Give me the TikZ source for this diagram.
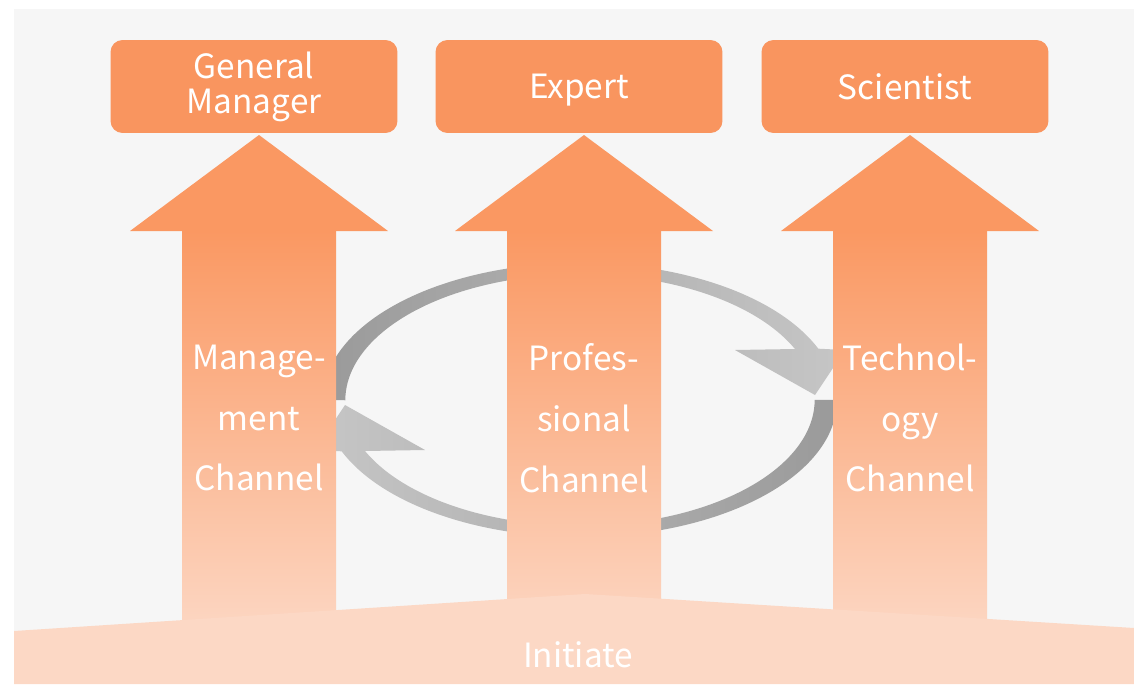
\documentclass[tikz,border=0pt]{standalone}
\usepackage{fontspec}
\setmainfont{Noto Sans CJK SC}
\usepackage{xcolor}
\usepackage{tikz}

\definecolor{boxorange}{HTML}{F9955F}
\definecolor{arrowtop}{HTML}{FA9862}
\definecolor{arrowbottom}{HTML}{FCD6C2}
\definecolor{basepeach}{HTML}{FCD8C5}
\definecolor{bggray}{HTML}{F6F6F6}
\definecolor{loopdark}{HTML}{9A9A9A}
\definecolor{looplight}{HTML}{C6C6C6}

\begin{document}
\begin{tikzpicture}[x=0.02cm,y=-0.02cm,
  box/.style={fill=boxorange,rounded corners=0.24cm,minimum width=5.74cm,minimum height=1.86cm,
    text=white,align=center,font=\fontsize{19}{20}\selectfont},
  chan/.style={text=white,align=center,font=\fontsize{19}{34.6}\selectfont}]
\useasboundingbox (0,0) rectangle (1134,684);
\fill[white] (0,0) rectangle (1134,684);
\fill[bggray] (14,9) rectangle (1134,684);

% loop behind the channels
\shade[left color=loopdark,right color=looplight]
  (323,400) arc[start angle=180,end angle=338,x radius=257,y radius=137]
  -- (845,350) -- (815,395) -- (735,350) -- (795,349)
  arc[start angle=336,end angle=180,x radius=235,y radius=126] -- cycle;
\shade[left color=looplight,right color=loopdark]
  (837,400) arc[start angle=0,end angle=158,x radius=257,y radius=137]
  -- (315,450) -- (345,405) -- (425,450) -- (365,451)
  arc[start angle=156,end angle=0,x radius=235,y radius=126] -- cycle;

% the three channels
\foreach \c in {259,584,910}{
  \fill[arrowtop] (\c,135) -- ({\c+129},231) -- ({\c-129},231) -- cycle;
  \shade[top color=arrowtop,bottom color=arrowbottom] ({\c-77},230) rectangle ({\c+77},630);
}

% base
\fill[basepeach] (14,631) -- (585,594) -- (1134,628) -- (1134,684) -- (14,684) -- cycle;

\node[box] (gm) at (254,86.5) {General\\Manager};
\node[box,text depth=0pt] (expert) at (579,86.5) {Expert};
\node[box] (sci) at (905,86.5) {Scientist};

\node[chan] (mgmt) at (259,418) {Manage-\\ment\\Channel};
\node[chan] (prof) at (584,418) {Profes-\\sional\\Channel};
\node[chan] (tech) at (910,418) {Technol-\\ogy\\Channel};

\node[text=white,font=\fontsize{19}{20}\selectfont] (init) at (578,655) {Initiate};
\end{tikzpicture}
\end{document}
